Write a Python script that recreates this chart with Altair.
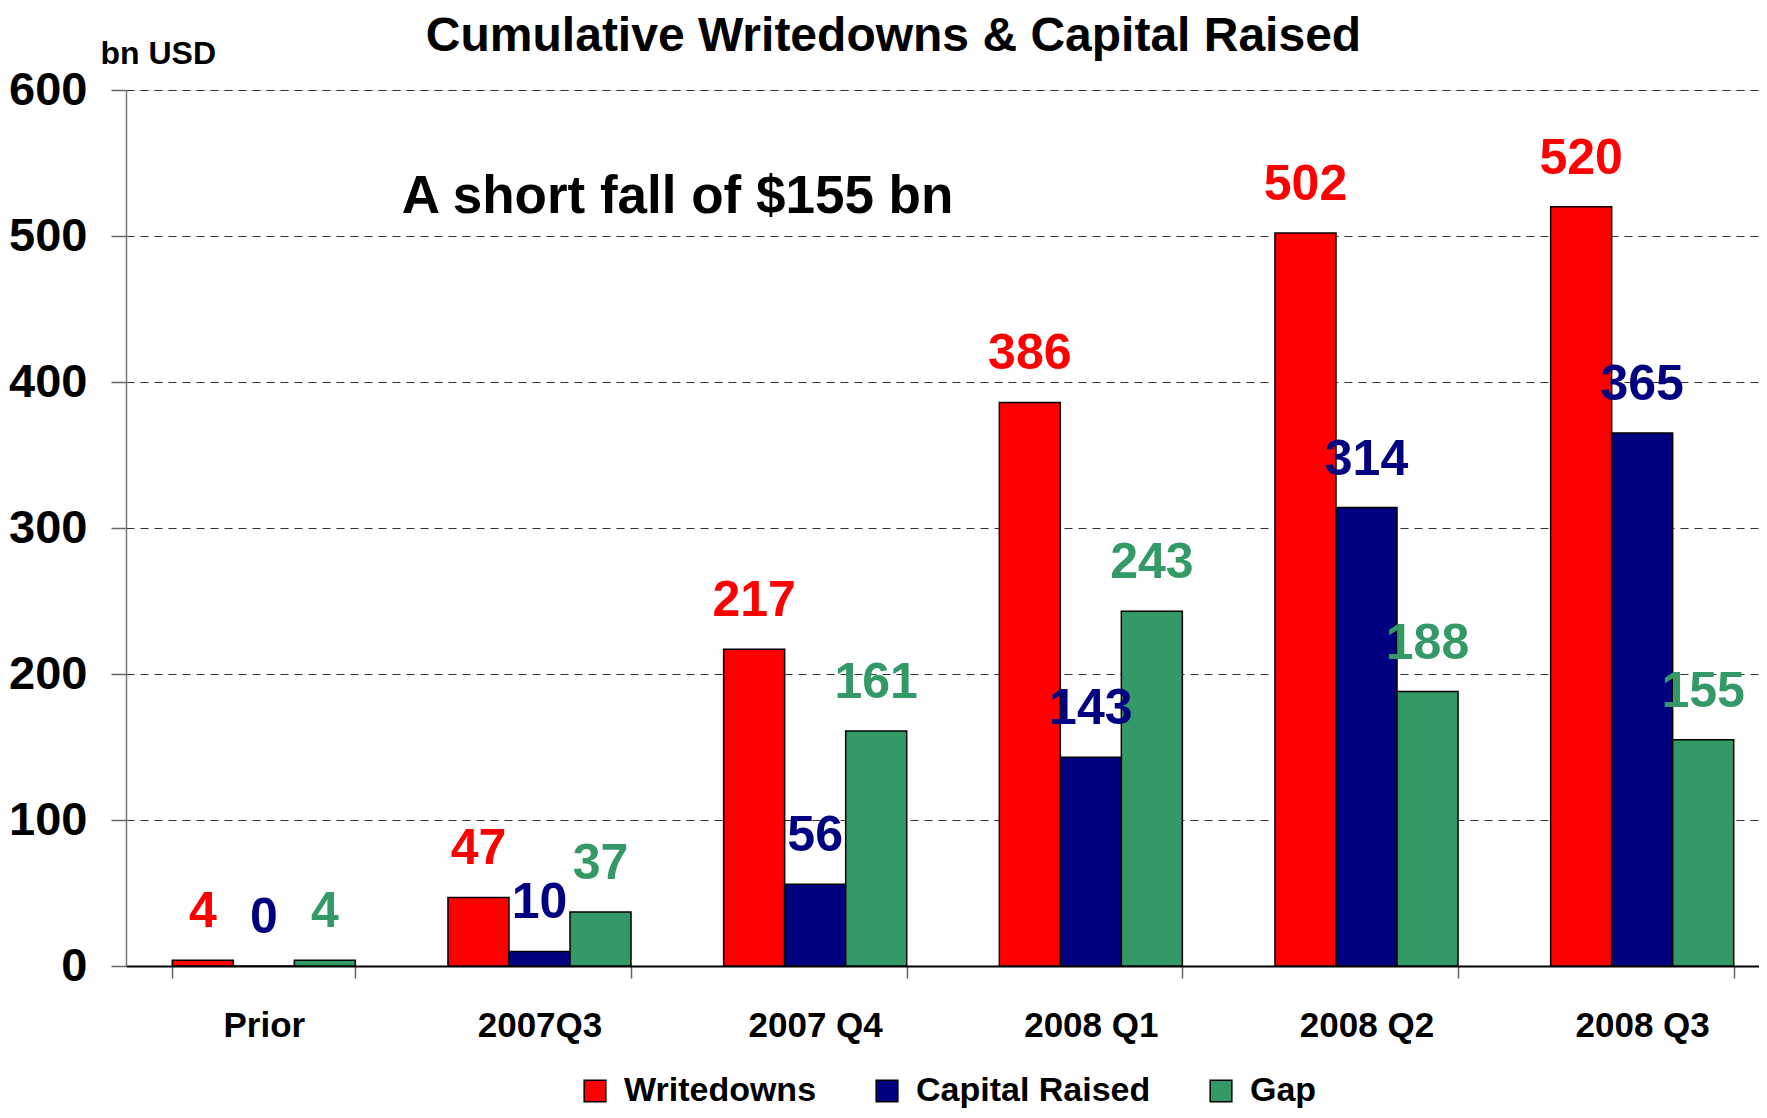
import altair as alt
import pandas as pd

categories = ["Prior", "2007Q3", "2007 Q4", "2008 Q1", "2008 Q2", "2008 Q3"]
series = ["Writedowns", "Capital Raised", "Gap"]
colors = ["#FF0000", "#000080", "#339966"]
writedowns = [4, 47, 217, 386, 502, 520]
capital_raised = [0, 10, 56, 143, 314, 365]
gap = [4, 37, 161, 243, 188, 155]
y_ticks = [0, 100, 200, 300, 400, 500, 600]
title_text = "Cumulative Writedowns & Capital Raised"
unit_text = "bn USD"
note_text = "A short fall of $155 bn"
note_cat = "2007Q3"
note_value = 516

rows = []
for s, vals in zip(series, [writedowns, capital_raised, gap]):
    for c, v in zip(categories, vals):
        rows.append({"cat": c, "series": s, "value": v})
df = pd.DataFrame(rows)
note_df = pd.DataFrame([{"cat": note_cat, "value": note_value, "text": note_text}])

FONT = "Liberation Sans, Arial, sans-serif"

xscale = alt.Scale(domain=categories, range=[0, 1654], paddingInner=0.336, paddingOuter=0.168)
yscale = alt.Scale(domain=[0, 600], nice=False)
cscale = alt.Scale(domain=series, range=colors)

x_enc = alt.X(
    "cat:N", sort=categories, scale=xscale, title=None,
    axis=alt.Axis(
        labelFont=FONT, labelFontSize=35, labelFontWeight="bold", labelColor="black",
        labelAngle=0, labelPadding=30, tickBand="extent", tickSize=12, tickColor="#666666",
        tickWidth=1.5, domainColor="black", domainWidth=2, grid=False, labelBaseline="top",
    ),
)
y_enc = alt.Y(
    "value:Q", scale=yscale,
    axis=alt.Axis(
        values=y_ticks, title=unit_text, titleAngle=0, titleX=-26, titleY=-27,
        titleAlign="left", titleBaseline="alphabetic", titleFont=FONT, titleFontSize=32,
        titleFontWeight="bold", titleColor="black",
        labelFont=FONT, labelFontSize=47, labelFontWeight="bold", labelColor="black",
        labelPadding=24, tickSize=15, tickColor="#666666", tickWidth=1.5,
        domainColor="#777777", domainWidth=1.5,
        grid=True, gridColor="#333333", gridDash=[8, 6], gridWidth=1.2,
    ),
)

bars = alt.Chart(df).mark_bar(stroke="black", strokeWidth=1.5).encode(
    x=x_enc,
    y=y_enc,
    xOffset=alt.XOffset("series:N", sort=series, scale=alt.Scale(domain=series)),
    color=alt.Color(
        "series:N", scale=cscale, sort=series,
        legend=alt.Legend(
            title=None, orient="none", direction="horizontal", legendX=452, legendY=984,
            labelFont=FONT, labelFontSize=34, labelFontWeight="bold", labelColor="black",
            labelLimit=0, symbolType="square", symbolSize=470, symbolStrokeColor="black",
            symbolStrokeWidth=1.5, symbolOpacity=1, labelOffset=12, columnPadding=53,
        ),
    ),
)

labels = alt.Chart(df).mark_text(
    font=FONT, fontSize=50, fontWeight="bold", baseline="alphabetic", dy=-33
).encode(
    x=alt.X("cat:N", sort=categories, scale=xscale),
    y=alt.Y("value:Q", scale=yscale),
    xOffset=alt.XOffset("series:N", sort=series, scale=alt.Scale(domain=series)),
    text=alt.Text("value:Q"),
    color=alt.Color("series:N", scale=cscale, sort=series, legend=None),
)

note = alt.Chart(note_df).mark_text(
    font=FONT, fontSize=53, fontWeight="bold", baseline="alphabetic", align="center",
    dx=138, color="black"
).encode(
    x=alt.X("cat:N", sort=categories, scale=xscale),
    y=alt.Y("value:Q", scale=yscale),
    text="text:N",
)

chart = alt.layer(bars, labels, note).properties(
    width=1633,
    height=876,
    title=alt.TitleParams(
        text=title_text, font=FONT, fontSize=48, fontWeight="bold", color="black",
        anchor="middle", frame="group", dx=-49, offset=-62, baseline="alphabetic",
    ),
    autosize=alt.AutoSizeParams(type="none"),
    padding={"left": 118, "top": 82, "right": 0, "bottom": 144},
).configure_view(stroke=None).configure(background="white")

chart.save("out.html", embed_options={"renderer": "svg", "actions": False})
